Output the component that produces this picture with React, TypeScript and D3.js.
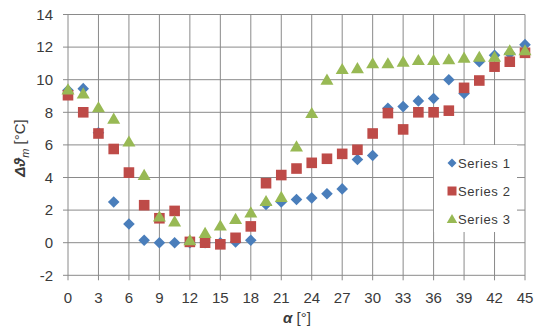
import React from "react";
import * as d3 from "d3";

const alpha = [0, 1.5, 3, 4.5, 6, 7.5, 9, 10.5, 12, 13.5, 15, 16.5, 18, 19.5, 21, 22.5, 24, 25.5, 27, 28.5, 30, 31.5, 33, 34.5, 36, 37.5, 39, 40.5, 42, 43.5, 45];
const series1 = [9.35, 9.45, 6.75, 2.5, 1.15, 0.15, 0, 0, 0, 0, 0, 0.05, 0.15, 2.35, 2.5, 2.65, 2.75, 3.0, 3.3, 5.1, 5.35, 8.25, 8.35, 8.7, 8.85, 10.0, 9.15, 11.1, 11.5, 11.6, 12.15];
const series2 = [9.05, 8.0, 6.7, 5.75, 4.3, 2.3, 1.5, 1.95, 0.05, 0.0, -0.1, 0.3, 1.0, 3.65, 4.15, 4.55, 4.9, 5.15, 5.45, 5.7, 6.7, 7.95, 6.95, 8.0, 8.0, 8.1, 9.5, 9.95, 10.8, 11.1, 11.65];
const series3 = [9.4, 9.15, 8.3, 7.6, 6.2, 4.15, 1.6, 1.3, 0.15, 0.6, 1.05, 1.45, 1.85, 2.55, 2.8, 5.9, 7.95, 10.0, 10.65, 10.7, 11.0, 11.0, 11.1, 11.2, 11.2, 11.25, 11.35, 11.4, 11.4, 11.8, 11.8];
const xTicks = [0, 3, 6, 9, 12, 15, 18, 21, 24, 27, 30, 33, 36, 39, 42, 45];
const yTicks = [-2, 0, 2, 4, 6, 8, 10, 12, 14];
const seriesNames = ["Series 1", "Series 2", "Series 3"];
const colors = ["#4a7ebb", "#be4b48", "#98b954"];

export default function App() {
  const W = 535, H = 328;
  const x = d3.scaleLinear().domain([0, 45]).range([68, 525]);
  const y = d3.scaleLinear().domain([-2, 14]).range([275.3, 14.5]);
  const all = [series1, series2, series3];
  const font = "'Liberation Sans', Arial, sans-serif";
  const diamond = (cx: number, cy: number, r: number) => `M${cx},${cy - r}L${cx + r},${cy}L${cx},${cy + r}L${cx - r},${cy}Z`;
  const square = (cx: number, cy: number, r: number) => `M${cx - r},${cy - r}h${2 * r}v${2 * r}h${-2 * r}Z`;
  const tri = (cx: number, cy: number, r: number) => `M${cx},${cy - r}L${cx + r * 1.05},${cy + r * 0.8}L${cx - r * 1.05},${cy + r * 0.8}Z`;
  const shapes = [(cx: number, cy: number) => diamond(cx, cy, 5.8), (cx: number, cy: number) => square(cx, cy, 5.3), (cx: number, cy: number) => tri(cx, cy, 6.2)];
  const grid = "#8a8a8a";
  const x0 = x(0), x1 = x(45), yTop = y(14), yBot = y(-2);
  return (
    <svg width={W} height={H} style={{ position: "absolute", left: 0, top: 0, background: "#fff" }}>
      <rect x={0} y={0} width={W} height={H} fill="#fff" />
      {xTicks.map((t) => (
        <line key={"vx" + t} x1={x(t)} x2={x(t)} y1={yTop} y2={yBot + 5} stroke={grid} strokeWidth={1} />
      ))}
      {yTicks.map((t) => (
        <line key={"hy" + t} x1={x0 - 5} x2={x1} y1={y(t)} y2={y(t)} stroke={grid} strokeWidth={1} />
      ))}
      {yTicks.map((t) => (
        <text key={"yl" + t} x={53} y={y(t)} dy="0.35em" textAnchor="end" fontSize={15} fontFamily={font} fill="#3a3a3a">{t}</text>
      ))}
      {xTicks.map((t) => (
        <text key={"xl" + t} x={x(t)} y={298} dy="0.35em" textAnchor="middle" fontSize={15} fontFamily={font} fill="#3a3a3a">{t}</text>
      ))}
      {all.map((s, si) => (
        <g key={"s" + si}>
          {s.map((v, i) => (
            <path key={i} d={shapes[si](x(alpha[i]), y(v))} fill={colors[si]} />
          ))}
        </g>
      ))}
      <rect x={434} y={145} width={83} height={87} fill="#fff" />
      {seriesNames.map((n, i) => {
        const cy = 163 + i * 28;
        return (
          <g key={n}>
            <path d={i === 0 ? diamond(452, cy, 4.5) : i === 1 ? square(452, cy, 4.5) : tri(452, cy, 5)} fill={colors[i]} />
            <text x={458} y={cy} dy="0.35em" fontSize={13} fontFamily={font} fill="#3a3a3a" letterSpacing={0.6}>{n}</text>
          </g>
        );
      })}
      <text x={297} y={318} dy="0.35em" textAnchor="middle" fontSize={15} fontFamily={font} fill="#3a3a3a">
        <tspan fontWeight="bold" fontStyle="italic">α</tspan> [°]
      </text>
      <text transform="translate(20,148) rotate(-90)" textAnchor="middle" dy="0.35em" fontSize={15} fontFamily={font} fill="#3a3a3a">
        <tspan fontWeight="bold" fontStyle="italic">Δϑ</tspan>
        <tspan fontStyle="italic" fontSize={11} dy="4">m</tspan>
        <tspan dy="-4"> [°C]</tspan>
      </text>
    </svg>
  );
}
